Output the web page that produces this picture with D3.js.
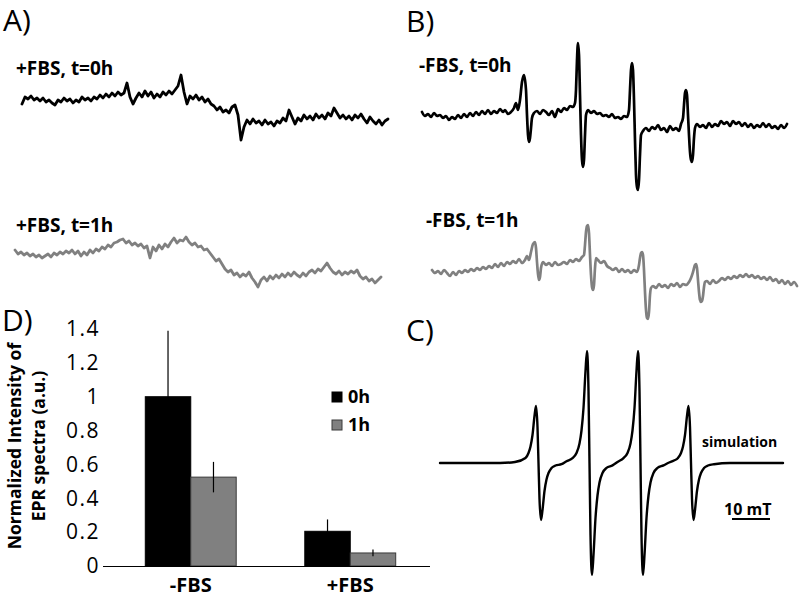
<!DOCTYPE html>
<html>
<head>
<meta charset="utf-8">
<script src="https://cdn.jsdelivr.net/npm/d3@7"></script>
<style>
  html, body { margin: 0; padding: 0; background: #fff; }
  svg { display: block; }
  text { font-family: "Open Sans", "Noto Sans", sans-serif; }
</style>
</head>
<body>
<svg id="fig" width="800" height="603"></svg>
<script>
// ---------------- DATA ----------------
// Panel A: +FBS spectra (intensity, a.u.), uniform field sampling
const aFbs0h = [-4,3,1,4,0,2,-1,2,-2,0,-3,-5,0,-2,2,-1,1,-3,0,-2,3,0,2,-1,3,1,5,2,6,3,7,4,8,5,7,17,3,-4,2,7,3,9,4,8,2,6,3,8,5,9,6,10,14,25,8,-4,4,1,5,0,3,-2,1,-4,-6,-10,-7,-12,-10,-13,-7,-5,-15,-40,-27,-20,-24,-19,-23,-21,-25,-20,-24,-22,-26,-21,-23,-18,-21,-10,-17,-24,-18,-21,-15,-19,-16,-20,-14,-18,-15,-19,-13,-16,-8,-13,-18,-15,-19,-16,-20,-15,-18,-14,-19,-23,-17,-21,-24,-20,-25,-21,-19];
const aFbs1h = [10,6,8,5,7,4,6,3,5,2,4,6,3,7,5,8,6,9,7,10,6,9,4,8,5,10,7,11,9,13,11,15,13,17,18,20,21,17,19,15,17,14,16,12,14,2,13,9,15,11,16,13,18,22,17,20,19,23,18,15,17,13,14,10,11,7,3,-1,1,-4,-9,-12,-10,-15,-13,-17,-14,-16,-12,-18,-22,-27,-20,-17,-21,-16,-19,-15,-18,-14,-17,-13,-16,-12,-15,-17,-13,-16,-12,-10,-13,-9,-11,-7,-3,-8,-12,-14,-11,-15,-12,-14,-11,-13,-10,-16,-19,-17,-21,-19,-23,-20,-17];

// Panel B: -FBS spectra, [field channel, intensity]
const bFbs0h = [[0,3],[3,-1],[6,1],[9,-2],[12,2],[15,-1],[18,0],[21,-3],[24,-1],[27,-5],[30,-2],[33,-4],[36,0],[39,-3],[42,1],[45,-2],[48,2],[51,-1],[54,3],[57,0],[60,4],[63,1],[66,5],[69,1],[72,4],[75,2],[78,6],[81,3],[83,5],[86,1],[89,3],[92,7],[94,12],[96,5],[98,15],[100,33],[102,40],[104,25],[105,0],[106,-20],[107,-27],[108,-23],[109,-13],[110,-3],[112,2],[115,4],[118,1],[121,5],[124,3],[127,0],[130,4],[133,-2],[136,6],[139,3],[142,7],[145,5],[148,9],[151,8],[153,12],[154,25],[155,55],[156,72],[157,60],[158,20],[159,-20],[160,-45],[161,-52],[162,-45],[163,-20],[164,0],[166,5],[169,2],[172,4],[175,1],[178,2],[181,-1],[184,0],[187,-2],[190,1],[193,-3],[196,-2],[199,-4],[202,-1],[205,-2],[207,5],[208,25],[209,45],[210,52],[211,45],[212,15],[213,-25],[214,-60],[215,-72],[216,-75],[217,-65],[218,-40],[219,-20],[221,-16],[224,-13],[227,-16],[230,-12],[233,-14],[236,-10],[239,-15],[242,-13],[245,-17],[248,-11],[251,-15],[254,-13],[257,-16],[259,-9],[261,-3],[262,10],[263,22],[264,25],[265,20],[266,0],[267,-20],[268,-37],[269,-45],[270,-47],[271,-40],[272,-23],[273,-13],[275,-9],[278,-12],[281,-10],[284,-13],[287,-8],[290,-12],[293,-9],[296,-11],[299,-6],[302,-9],[305,-7],[308,-11],[311,-6],[314,-9],[317,-7],[320,-11],[323,-8],[326,-12],[329,-9],[332,-13],[335,-10],[338,-12],[341,-8],[344,-12],[347,-9],[350,-13],[353,-11],[356,-14],[359,-10],[362,-13],[365,-9]];
const bFbs1h = [[0,0],[3,-3],[6,-1],[9,-4],[12,0],[15,-3],[18,-6],[21,-2],[24,-5],[27,-1],[30,-3],[33,0],[36,-2],[39,1],[42,-1],[45,2],[48,0],[51,3],[54,1],[57,4],[60,2],[63,6],[66,3],[69,7],[72,4],[75,8],[78,6],[81,9],[84,7],[87,11],[90,7],[93,10],[95,14],[97,10],[99,18],[101,26],[103,28],[104,22],[105,8],[106,-4],[107,-10],[108,-7],[109,2],[111,8],[114,5],[117,7],[120,4],[123,8],[126,5],[129,6],[132,8],[135,6],[138,10],[141,8],[144,11],[147,9],[150,13],[152,15],[153,25],[154,38],[155,44],[156,45],[157,37],[158,15],[159,-5],[160,-17],[161,-20],[162,-15],[163,2],[164,12],[166,10],[169,7],[172,9],[175,4],[178,2],[181,0],[184,2],[187,-2],[190,1],[193,-2],[196,0],[199,-3],[202,0],[205,-2],[207,5],[208,12],[209,17],[210,18],[211,15],[212,0],[213,-22],[214,-40],[215,-48],[216,-49],[217,-42],[218,-25],[219,-18],[221,-16],[224,-18],[227,-14],[230,-17],[233,-15],[236,-18],[239,-14],[242,-16],[245,-13],[248,-17],[251,-14],[254,-15],[257,-12],[259,-8],[261,-2],[263,5],[264,6],[265,2],[266,-10],[267,-22],[268,-30],[269,-32],[270,-31],[271,-26],[272,-17],[273,-12],[275,-11],[278,-14],[281,-10],[284,-13],[287,-11],[290,-8],[293,-10],[296,-7],[299,-9],[302,-6],[305,-8],[308,-5],[311,-7],[314,-4],[317,-7],[320,-5],[323,-8],[326,-6],[329,-9],[332,-7],[335,-10],[338,-7],[341,-11],[344,-9],[347,-13],[350,-10],[353,-14],[356,-11],[359,-15],[362,-12],[365,-16]];

// Panel C: simulated spectrum, [field channel, intensity]
const simSpectrum = [[0,0],[60,0],[75,1],[85.5,5],[88.5,10],[90.5,16.5],[92.5,28],[94.5,47],[96,57],[97.5,36],[98.5,0],[99.5,-36],[101,-57],[102.5,-47],[104.5,-28],[106.5,-16.5],[108.5,-10],[111.5,-5],[115.5,-2.5],[121.5,-1.2],[126.5,1.8],[132.5,4.9],[136.5,10],[139.5,19.5],[141.5,32.5],[143.5,55],[145.5,92],[147,112],[148.5,72],[149.5,0],[150.5,-72],[152,-112],[153.5,-92],[155.5,-55],[157.5,-32.5],[159.5,-19.5],[162.5,-10],[166.5,-4.9],[172.5,-2.4],[177.5,1],[183.5,4.9],[187.5,10],[190.5,19.5],[192.5,32.5],[194.5,55],[196.5,92],[198,112],[199.5,72],[200.5,0],[201.5,-72],[203,-112],[204.5,-92],[206.5,-55],[208.5,-32.5],[210.5,-19.5],[213.5,-10],[217.5,-4.9],[223.5,-2.4],[228,0],[234,2.5],[238,5],[241,10],[243,16.5],[245,28],[247,47],[248.5,57],[250,36],[251,0],[252,-36],[253.5,-57],[255,-47],[257,-28],[259,-16.5],[261,-10],[264,-5],[268,-2.5],[274,-1.2],[290,0],[343,0]];
const simChannelsPerMT = 3.8;
const scaleBarMT = 10;
const scaleBarEndChannel = 330;

// Panel D: bar chart
const categories = ["-FBS", "+FBS"];
const seriesNames = ["0h", "1h"];
const intensity0h = [1.0, 0.205];
const intensity1h = [0.525, 0.077];
const error0h = [0.39, 0.07];
const error1h = [0.09, 0.02];
const yTicks = [0, 0.2, 0.4, 0.6, 0.8, 1.0, 1.2, 1.4];
const seriesColors = ["#000000", "#808080"];

// ---------------- DRAW ----------------
const svg = d3.select("#fig");
svg.append("rect").attr("width", 800).attr("height", 603).attr("fill", "#fff");

function drawTrace(data, xDomain, xRange, yCenter, color, width, fx, fy, curve) {
  const x = d3.scaleLinear().domain(xDomain).range(xRange);
  const y = d3.scaleLinear().domain([-100, 100]).range([yCenter + 100, yCenter - 100]);
  const line = d3.line().x((d, i) => x(fx(d, i))).y(d => y(fy(d))).curve(curve || d3.curveMonotoneX);
  svg.append("path").datum(data).attr("d", line)
    .attr("fill", "none").attr("stroke", color).attr("stroke-width", width)
    .attr("stroke-linejoin", "round").attr("stroke-linecap", "round");
  return x;
}

// Panel letters
const letter = (t, x, y) => svg.append("text").attr("x", x).attr("y", y).attr("font-size", 30).attr("fill", "#000").text(t);
letter("A)", 3, 31);
letter("B)", 406, 32);
letter("C)", 406, 341);
letter("D)", 2, 331);

// Panel sub-titles
const sub = (t, x, y) => svg.append("text").attr("x", x).attr("y", y).attr("font-size", 19).attr("font-weight", "bold").text(t);
sub("+FBS, t=0h", 16, 75);
sub("+FBS, t=1h", 16, 232);
sub("-FBS, t=0h", 419, 72);
sub("-FBS, t=1h", 426, 227);

// Panel A traces
drawTrace(aFbs0h, [0, aFbs0h.length - 1], [22, 388], 100, "#000", 2.8, (d, i) => i, d => d, d3.curveLinear);
drawTrace(aFbs1h, [0, aFbs1h.length - 1], [15, 381], 260, "#808080", 2.8, (d, i) => i, d => d, d3.curveLinear);

// Panel B traces
drawTrace(bFbs0h, [0, 365], [422, 787], 115, "#000", 2.7, d => d[0], d => d[1]);
drawTrace(bFbs1h, [0, 365], [432, 797], 270, "#808080", 2.7, d => d[0], d => d[1]);

// Panel C simulation
const xSim = drawTrace(simSpectrum, [0, 343], [440, 783], 463, "#000", 2.4, d => d[0], d => d[1]);
svg.append("text").attr("x", 702).attr("y", 447).attr("font-size", 14).attr("font-weight", "bold").text("simulation");
svg.append("text").attr("x", 724).attr("y", 515).attr("font-size", 16).attr("font-weight", "bold").text("10 mT");
svg.append("line")
  .attr("x1", xSim(scaleBarEndChannel - scaleBarMT * simChannelsPerMT)).attr("x2", xSim(scaleBarEndChannel))
  .attr("y1", 519).attr("y2", 519).attr("stroke", "#000").attr("stroke-width", 2);

// Panel D bar chart
const y = d3.scaleLinear().domain([0, 1.4]).range([566, 329]);
const x0 = d3.scaleBand().domain(categories).range([111, 430]).paddingInner(0.43).paddingOuter(0.215);
const x1 = d3.scaleBand().domain(seriesNames).range([0, x0.bandwidth()]);
const values = [intensity0h, intensity1h];
const errors = [error0h, error1h];

const gY = svg.append("g").attr("transform", "translate(111,0)")
  .call(d3.axisLeft(y).tickValues(yTicks).tickSize(0).tickPadding(11).tickFormat(d => String(+d.toFixed(1))));
gY.select(".domain").remove();
gY.selectAll("text").attr("font-size", 21).attr("letter-spacing", 1.5).attr("font-family", "Open Sans").attr("fill", "#000");

seriesNames.forEach((s, si) => {
  categories.forEach((c, ci) => {
    const v = values[si][ci];
    svg.append("rect")
      .attr("x", x0(c) + x1(s)).attr("y", y(v))
      .attr("width", x1.bandwidth()).attr("height", y(0) - y(v))
      .attr("fill", seriesColors[si]).attr("stroke", si ? "#3a3a3a" : "#000").attr("stroke-width", 1);
  });
});
seriesNames.forEach((s, si) => {
  categories.forEach((c, ci) => {
    const v = values[si][ci], e = errors[si][ci];
    const cx = x0(c) + x1(s) + x1.bandwidth() / 2;
    svg.append("line").attr("x1", cx).attr("x2", cx)
      .attr("y1", y(v - e)).attr("y2", y(v + e))
      .attr("stroke", "#000").attr("stroke-width", 1.2);
  });
});

const gX = svg.append("g").attr("transform", `translate(0,${y(0)})`)
  .call(d3.axisBottom(x0).tickSize(0).tickSizeOuter(0).tickPadding(12));
gX.select(".domain").attr("stroke", "#000").attr("stroke-width", 1.2)
  .attr("d", `M103,0.5H430`);
gX.selectAll("text").attr("font-size", 20).attr("font-weight", "bold").attr("font-family", "Open Sans").attr("fill", "#000");

// legend
seriesNames.forEach((s, si) => {
  const ly = 392 + si * 28;
  svg.append("rect").attr("x", 332).attr("y", ly).attr("width", 10).attr("height", 10)
    .attr("fill", seriesColors[si]).attr("stroke", si ? "#3a3a3a" : "#000").attr("stroke-width", 1);
  svg.append("text").attr("x", 348).attr("y", ly + 11).attr("font-size", 18).attr("font-weight", "bold").text(s);
});

// y-axis title
const yt = svg.append("text").attr("transform", "translate(21,446) rotate(-90)")
  .attr("text-anchor", "middle").attr("font-size", 17.5).attr("font-weight", "bold");
yt.append("tspan").attr("x", 0).attr("y", 0).text("Normalized Intensity of");
yt.append("tspan").attr("x", 0).attr("y", 24).text("EPR spectra (a.u.)");
</script>
</body>
</html>
